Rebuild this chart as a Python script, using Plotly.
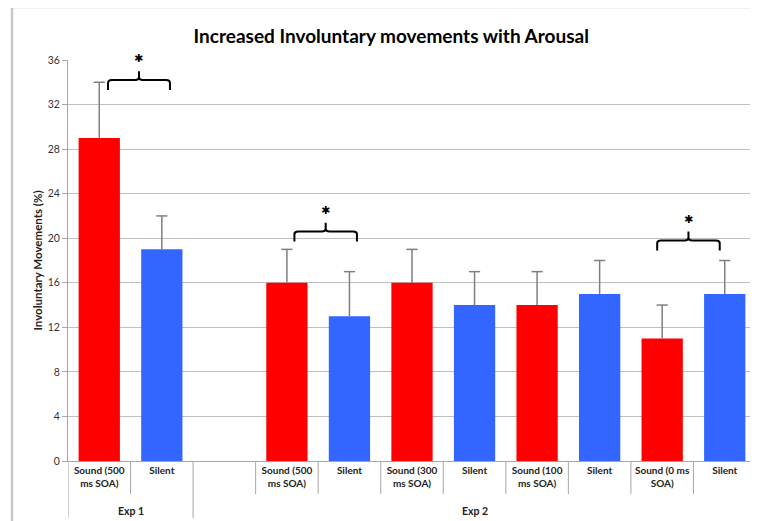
import plotly.graph_objects as go

# ---- data ----
categories = ["Sound (500<br>ms SOA)", "Silent", "", "Sound (500<br>ms SOA)", "Silent",
              "Sound (300<br>ms SOA)", "Silent", "Sound (100<br>ms SOA)", "Silent",
              "Sound (0 ms<br>SOA)", "Silent"]
values = [29, 19, None, 16, 13, 16, 14, 14, 15, 11, 15]
errors_plus = [5, 3, None, 3, 4, 3, 3, 3, 3, 3, 3]
bar_colors = ["#FF0000", "#3366FF", "#FFFFFF", "#FF0000", "#3366FF", "#FF0000",
              "#3366FF", "#FF0000", "#3366FF", "#FF0000", "#3366FF"]
groups = [("Exp 1", 0, 1), ("Exp 2", 2, 10)]
y_ticks = [0, 4, 8, 12, 16, 20, 24, 28, 32, 36]
# significance brackets: (x start, x end, bracket height)
brackets = [(0.14, 1.13, 34.2), (3.12, 4.12, 20.6), (8.92, 9.92, 19.8)]

x_idx = list(range(len(categories)))
Y_MAX = 36

fig = go.Figure()
fig.add_trace(go.Bar(
    x=x_idx, y=values, marker=dict(color=bar_colors, line=dict(width=0)),
    error_y=dict(type="data", array=errors_plus, symmetric=False,
                 arrayminus=[0] * len(values), color="#7f7f7f", thickness=1.5, width=0),
    showlegend=False, hoverinfo="skip",
))
# error-bar caps (top only)
cap_x = [x for x, v in zip(x_idx, values) if v is not None]
cap_y = [v + e for v, e in zip(values, errors_plus) if v is not None]
fig.add_trace(go.Scatter(
    x=cap_x, y=cap_y, mode="markers", showlegend=False, hoverinfo="skip",
    marker=dict(symbol="line-ew", size=8, line=dict(color="#7f7f7f", width=1.5)),
    cliponaxis=False,
))

shapes = []
# outer frame (chart border)
shapes.append(dict(type="rect", xref="paper", yref="paper", x0=-0.0814, x1=1.05,
                   y0=-0.3, y1=1.132, line=dict(color="#c8c8c8", width=2.5), layer="below"))
# category dividers
gap_y = -33 / 401
grp_y = -57 / 401
group_edges = set()
for name, a, b in groups:
    group_edges.add(a - 0.5)
    group_edges.add(b + 0.5)
for i in range(len(categories) + 1):
    xb = i - 0.5
    shapes.append(dict(type="line", xref="x", yref="paper", x0=xb, x1=xb, y0=0,
                       y1=grp_y if xb in group_edges else gap_y,
                       line=dict(color="#a6a6a6", width=1)))
# brackets
for x0, x1, h in brackets:
    xm = (x0 + x1) / 2
    d = 0.9
    c = 0.06
    path = (f"M {x0},{h - d} L {x0},{h - 0.25} Q {x0},{h} {x0 + c},{h} "
            f"L {xm - c},{h} Q {xm},{h} {xm},{h + 0.25} L {xm},{h + 0.8} "
            f"M {xm},{h + 0.25} Q {xm},{h} {xm + c},{h} L {x1 - c},{h} "
            f"Q {x1},{h} {x1},{h - 0.25} L {x1},{h - d}")
    shapes.append(dict(type="path", xref="x", yref="y", path=path,
                       line=dict(color="black", width=2)))

annotations = []
for x0, x1, h in brackets:
    annotations.append(dict(x=(x0 + x1) / 2, y=(h + 1.9) / Y_MAX, xref="x", yref="paper",
                            yanchor="middle", text="✱",
                            showarrow=False, font=dict(size=11, color="black", family="DejaVu Sans")))
for name, a, b in groups:
    annotations.append(dict(x=(a + b) / 2, xref="x", y=-50 / 401, yref="paper",
                            yanchor="middle", text=f"<b>{name}</b>", showarrow=False,
                            font=dict(size=10.5, color="#222", family="Lato")))

fig.update_layout(
    width=750, height=513,
    margin=dict(l=60, r=2, t=52, b=60, autoexpand=False),
    plot_bgcolor="white", paper_bgcolor="white",
    bargap=0.34,
    title=dict(text="<b>Increased Involuntary movements with Arousal</b>", x=0.511, xanchor="center",
               y=0.945, yanchor="middle", font=dict(size=19, color="black", family="Lato")),
    font=dict(family="Lato", color="#222"),
    xaxis=dict(range=[-0.5, 10.5], tickmode="array", tickvals=x_idx,
               ticktext=[f"<b>{c}</b>" for c in categories], tickfont=dict(size=10, color="#222"),
               showline=True, linecolor="#a6a6a6", linewidth=1, ticks="", showgrid=False,
               zeroline=False, fixedrange=True, automargin=False),
    yaxis=dict(range=[0, Y_MAX], tickvals=y_ticks, showgrid=True, gridcolor="#bfbfbf", gridwidth=1,
               showline=True, linecolor="#a6a6a6", linewidth=1, ticks="outside", ticklen=5,
               tickcolor="#a6a6a6", tickfont=dict(size=10.5, color="#333"), zeroline=False,
               automargin=False,
               title=dict(text="<b>Involuntary Movements (%)</b>", font=dict(size=11.5, color="#222"),
                          standoff=2)),
    shapes=shapes,
    annotations=annotations,
)

fig.write_html("out.html")
